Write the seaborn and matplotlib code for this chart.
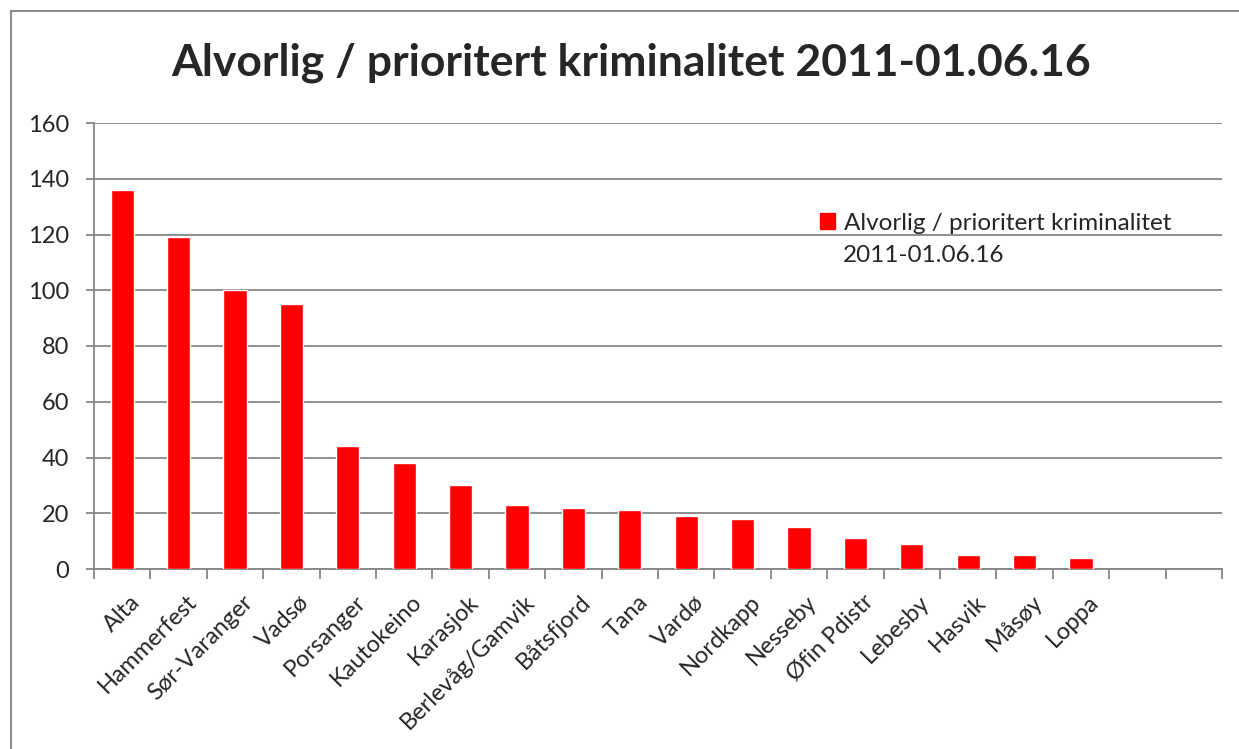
import matplotlib
matplotlib.use('Agg')
import matplotlib.pyplot as plt
import matplotlib.transforms as mtransforms
import seaborn as sns
import pandas as pd
from matplotlib.lines import Line2D
from matplotlib.patches import Patch

# Data
places = ['Alta', 'Hammerfest', 'Sør-Varanger', 'Vadsø', 'Porsanger', 'Kautokeino',
          'Karasjok', 'Berlevåg/Gamvik', 'Båtsfjord', 'Tana', 'Vardø', 'Nordkapp',
          'Nesseby', 'Øfin Pdistr', 'Lebesby', 'Hasvik', 'Måsøy', 'Loppa']
counts = [136, 119, 100, 95, 44, 38, 30, 23, 22, 21, 19, 18, 15, 11, 9, 5, 5, 4]
n_slots = 20  # the reference axis has two empty category slots at the end
y_ticks = [0, 20, 40, 60, 80, 100, 120, 140, 160]
series_name = 'Alvorlig / prioritert kriminalitet'
series_date = '2011-01.06.16'

df = pd.DataFrame({'place': places, 'count': counts})

sns.set_style('white')
plt.rcParams['font.family'] = ['Lato', 'DejaVu Sans']

W, H = 1239, 749
fig = plt.figure(figsize=(W / 100, H / 100), dpi=100)
ax = fig.add_axes([94 / W, 1 - 569 / H, (1222 - 94) / W, (569 - 123) / H])

grey = '#868686'
sns.barplot(data=df, x='place', y='count', color='#ff0000', width=0.41,
            saturation=1, ax=ax, zorder=3)

ax.set_xlim(-0.5, n_slots - 0.5)
ax.set_ylim(0, 160)
ax.set_yticks(y_ticks)
ax.set_yticklabels([str(v) for v in y_ticks], fontsize=17)
ax.yaxis.grid(True, color=grey, linewidth=1.3, zorder=0)
ax.set_xlabel('')
ax.set_ylabel('')

# tick marks between categories, labels at category centres
ax.set_xticks([i - 0.5 for i in range(n_slots + 1)])
ax.set_xticklabels([])
ax.set_xticks(range(len(places)), minor=True)
ax.set_xticklabels(places, minor=True, rotation=45, ha='right',
                   rotation_mode='anchor', fontsize=17)
ax.tick_params(axis='x', which='minor', length=0, pad=16)
ax.tick_params(axis='x', which='major', length=7, width=1.3, color=grey, direction='out')
ax.tick_params(axis='y', length=6, width=1.3, color=grey, direction='out', pad=12)
ax.tick_params(axis='x', which='major', bottom=True)
ax.tick_params(axis='y', left=True)

# nudge the rotated labels a little to the right, like Excel places them
shift = mtransforms.ScaledTranslation(7 / 100, 0, fig.dpi_scale_trans)
for lbl in ax.get_xticklabels(minor=True):
    lbl.set_transform(lbl.get_transform() + shift)

for side in ['top', 'right']:
    ax.spines[side].set_visible(False)
for side in ['left', 'bottom']:
    ax.spines[side].set_color(grey)
    ax.spines[side].set_linewidth(1.3)

fig.suptitle(series_name + ' ' + series_date, x=631 / W, y=1 - 63 / H,
             va='center', fontsize=32, fontweight='bold')

leg = fig.legend(handles=[Patch(color='#ff0000')], labels=[series_name],
                 loc='center left', bbox_to_anchor=(808 / W, 1 - 223 / H),
                 frameon=False, fontsize=17.5, handlelength=0.6, handleheight=0.6,
                 handletextpad=0.4, borderpad=0)
fig.text(843 / W, 1 - 255 / H, series_date, fontsize=17.5, va='center', ha='left')

# chart-area frame (only top and left edges are visible in the reference)
fig.add_artist(Line2D([11 / W, 1], [1 - 11 / H, 1 - 11 / H], color='#8c8c8c',
                      linewidth=1.5, transform=fig.transFigure))
fig.add_artist(Line2D([11 / W, 11 / W], [0, 1 - 11 / H], color='#8c8c8c',
                      linewidth=1.5, transform=fig.transFigure))

fig.savefig('out.png', dpi=100)
